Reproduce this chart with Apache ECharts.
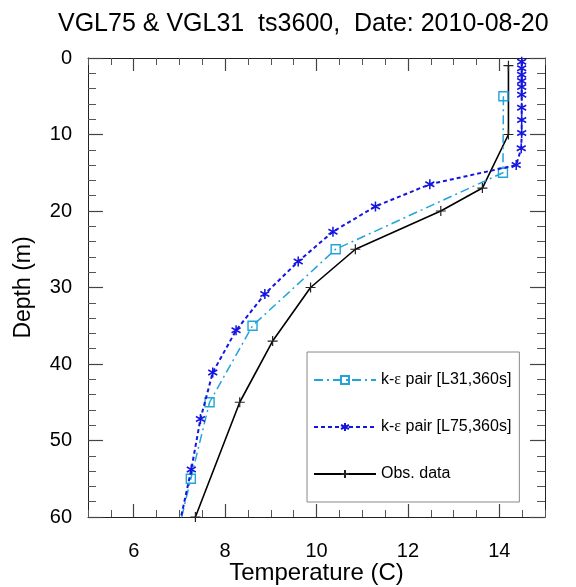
<!DOCTYPE html>
<html>
<head>
<meta charset="utf-8">
<style>
  html, body { margin: 0; padding: 0; background: #fff; }
  #chart { width: 576px; height: 587px; }
</style>
<script src="https://cdn.jsdelivr.net/npm/echarts@6/dist/echarts.min.js"></script>
</head>
<body>
<div id="chart"></div>
<script>
// Temperature profiles: observed vs. k-epsilon runs on 31 and 75 levels
const obsDepth = [1, 10, 17, 20, 25, 30, 37, 45, 60];
const obsTemp  = [14.2, 14.2, 13.63, 12.72, 10.85, 9.87, 9.04, 8.32, 7.35];

const l31Depth = [5, 15, 25, 35, 45, 55, 65];
const l31Temp  = [14.09, 14.08, 10.42, 8.6, 7.66, 7.25, 6.85];

const l75Depth = [0.5, 1.35, 2.2, 3.0, 3.8, 4.8, 6.5, 8.1, 9.8, 11.8, 14.0,
                  16.5, 19.4, 22.7, 26.6, 30.85, 35.6, 41.1, 47.2, 53.8, 61];
const l75Temp  = [14.49, 14.49, 14.49, 14.49, 14.49, 14.49, 14.49, 14.49, 14.49, 14.48, 14.37,
                  12.48, 11.29, 10.36, 9.6, 8.87, 8.24, 7.73, 7.46, 7.26, 7.0];

const xMajorTicks = [6, 8, 10, 12, 14];
const seriesNames = ['k-ε pair [L31,360s]', 'k-ε pair [L75,360s]', 'Obs. data'];

const pairs = (t, d) => t.map((v, i) => [v, d[i]]);

const FONT = 'Liberation Sans, Arial, Helvetica, sans-serif';
const AXIS_COLOR = '#222';

const plusPath = 'path://M0,-1L0,1M-1,0L1,0';
const starPath = 'path://M0,-1L0,1M-0.866,-0.5L0.866,0.5M-0.866,0.5L0.866,-0.5';
const squarePath = 'path://M-1,-1L1,-1L1,1L-1,1Z';

function xAxisPair(position) {
  const bottom = position === 'bottom';
  return [
    { // minor ticks every 0.5 and frame line
      type: 'value', position: position, min: 5, max: 15, interval: 0.5,
      axisLine: { show: true, onZero: false, lineStyle: { color: AXIS_COLOR, width: 1 } },
      axisTick: { show: true, inside: true, length: 7, lineStyle: { color: '#555', width: 1 } },
      axisLabel: { show: false },
      splitLine: { show: false }
    },
    { // major ticks and labels on even values
      type: 'value', position: position, min: 5, max: 15,
      name: bottom ? 'Temperature (C)' : '',
      nameLocation: 'middle', nameGap: 44, nameMoveOverlap: false,
      nameTextStyle: { fontFamily: FONT, fontSize: 24, color: '#000' },
      axisLine: { show: false, onZero: false },
      axisTick: { show: true, inside: true, length: 13, customValues: xMajorTicks,
                  lineStyle: { color: '#444', width: 1.2 } },
      axisLabel: { show: bottom, customValues: xMajorTicks, margin: 24,
                   fontFamily: FONT, fontSize: 20, color: '#000' },
      splitLine: { show: false }
    }
  ];
}

function yAxis(position) {
  const left = position === 'left';
  return {
    type: 'value', position: position, inverse: true, min: 0, max: 60, interval: 10,
    name: left ? 'Depth (m)' : '',
    nameLocation: 'middle', nameGap: 53, nameRotate: 90, nameMoveOverlap: false,
    nameTextStyle: { fontFamily: FONT, fontSize: 23, color: '#000' },
    axisLine: { show: true, onZero: false, lineStyle: { color: AXIS_COLOR, width: 1 } },
    axisTick: { show: true, inside: true, length: 15, lineStyle: { color: '#444', width: 1.2 } },
    minorTick: { show: true, splitNumber: 5, length: 8, lineStyle: { color: '#555', width: 1 } },
    axisLabel: { show: left, margin: 16, fontFamily: FONT, fontSize: 20, color: '#000' },
    splitLine: { show: false }
  };
}

const chart = echarts.init(document.getElementById('chart'), null, { renderer: 'canvas' });

chart.setOption({
  animation: false,
  backgroundColor: '#fff',
  title: {
    text: 'VGL75 & VGL31  ts3600,  Date: 2010-08-20',
    left: 53, top: 7,
    textStyle: { fontFamily: FONT, fontSize: 25, fontWeight: 'normal', color: '#000' }
  },
  grid: { left: 88, right: 31, top: 58, bottom: 70, containLabel: false, outerBoundsMode: 'none' },
  xAxis: [...xAxisPair('bottom'), ...xAxisPair('top')],
  yAxis: [yAxis('left'), yAxis('right')],
  legend: {
    orient: 'vertical',
    left: 307, top: 352,
    padding: [20, 8, 20, 6],
    itemGap: 31,
    itemWidth: 62, itemHeight: 10,
    backgroundColor: '#fff',
    borderColor: '#888', borderWidth: 1,
    data: seriesNames,
    formatter: name => name.replace('ε', '{e|ε}'),
    textStyle: {
      fontFamily: FONT, fontSize: 16, color: '#000',
      rich: { e: { fontFamily: 'Liberation Serif, DejaVu Serif, serif', fontSize: 16, color: '#000' } }
    }
  },
  series: [
    {
      name: seriesNames[0], type: 'line', xAxisIndex: 0, yAxisIndex: 0,
      data: pairs(l31Temp, l31Depth),
      symbol: squarePath, symbolSize: 9,
      lineStyle: { color: '#22a3d9', width: 1.5, type: [9, 4, 2, 4] },
      itemStyle: { color: 'rgba(0,0,0,0)', borderColor: '#22a3d9', borderWidth: 1.4 },
      z: 3
    },
    {
      name: seriesNames[1], type: 'line', xAxisIndex: 0, yAxisIndex: 0,
      data: pairs(l75Temp, l75Depth),
      symbol: starPath, symbolSize: [9, 10],
      lineStyle: { color: '#1515e0', width: 2, type: [4, 3] },
      itemStyle: { color: '#1515e0', borderColor: '#1515e0', borderWidth: 1.6 },
      z: 4
    },
    {
      name: seriesNames[2], type: 'line', xAxisIndex: 0, yAxisIndex: 0,
      data: pairs(obsTemp, obsDepth),
      symbol: plusPath, symbolSize: 10,
      lineStyle: { color: '#000', width: 1.6 },
      itemStyle: { color: '#000', borderColor: '#222', borderWidth: 1.2 },
      z: 2
    }
  ]
});
</script>
</body>
</html>
